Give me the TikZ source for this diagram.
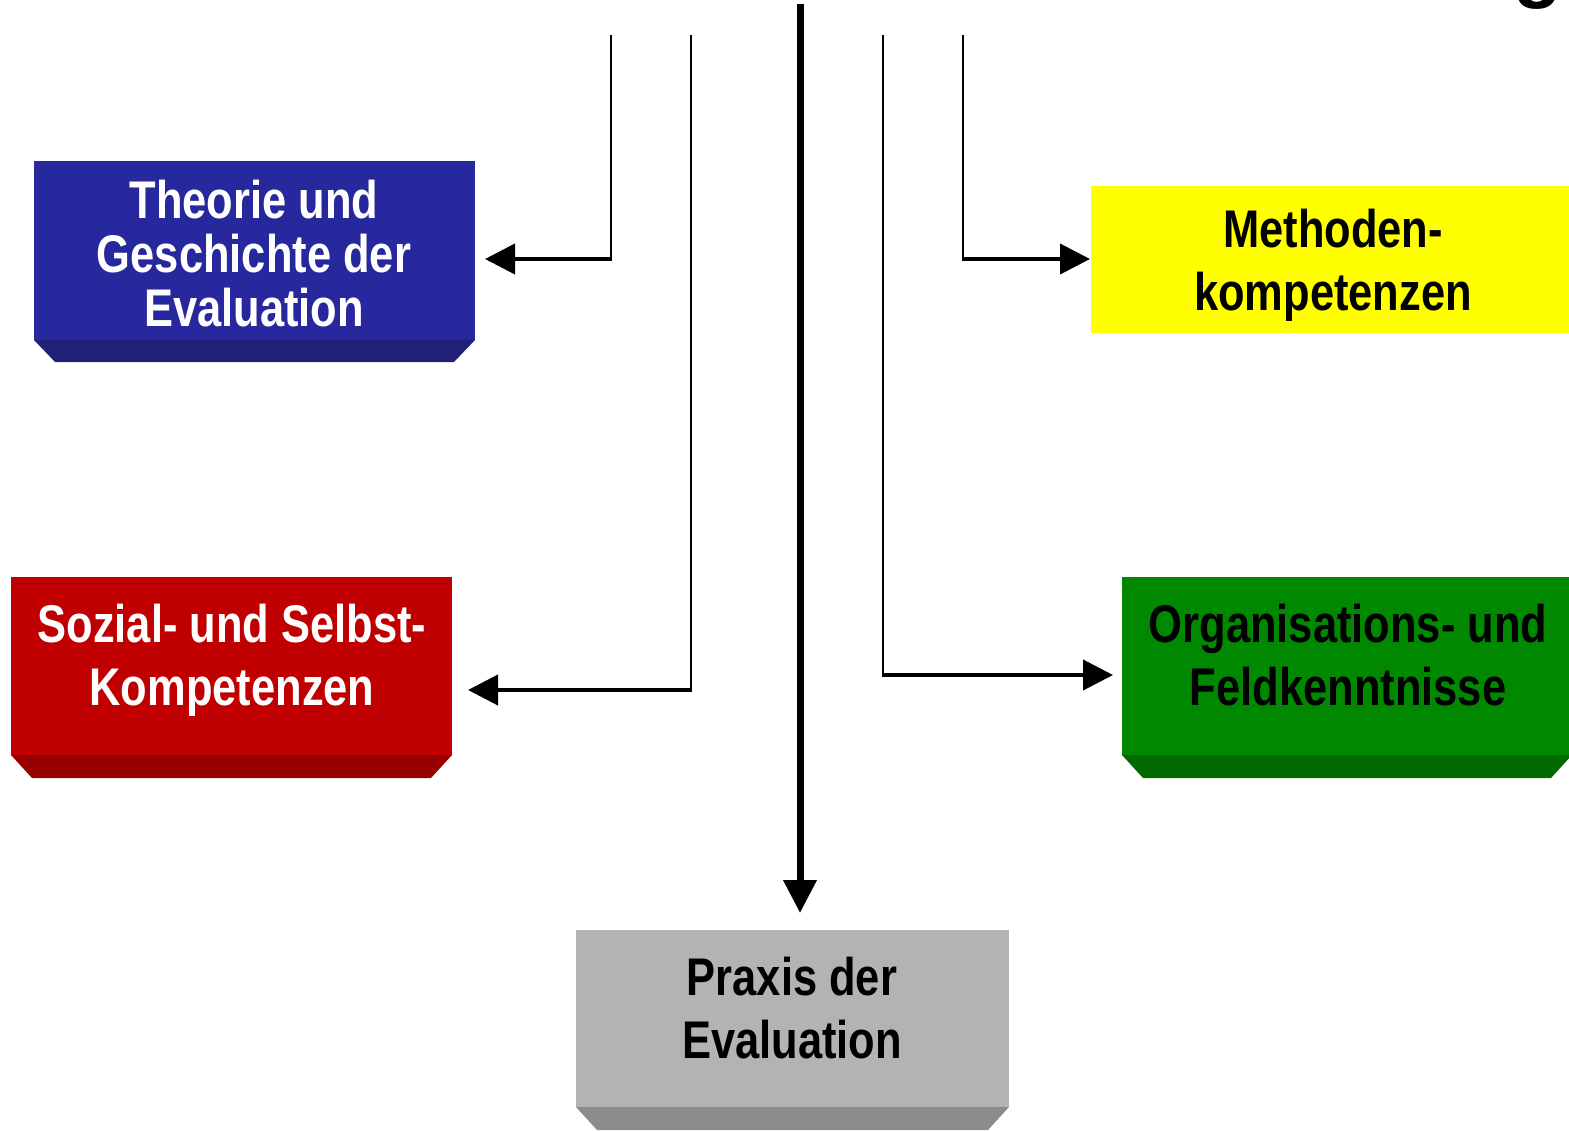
\documentclass[tikz,border=0pt]{standalone}
\usepackage{fontspec}
\newfontfamily\nb{Liberation Sans}[FakeStretch=0.82]
\newfontfamily\tb{Liberation Sans}
\usetikzlibrary{arrows.meta}
\definecolor{blueF}{RGB}{40,40,158}
\definecolor{blueB}{RGB}{32,32,118}
\definecolor{redF}{RGB}{192,0,0}
\definecolor{redB}{RGB}{152,0,0}
\definecolor{greenF}{RGB}{0,136,0}
\definecolor{greenB}{RGB}{0,106,0}
\definecolor{yellowF}{RGB}{255,255,0}
\definecolor{grayF}{RGB}{179,179,179}
\definecolor{grayB}{RGB}{140,140,140}
\tikzset{
  box/.style={rectangle, inner sep=0pt, outer sep=0pt},
  lbl/.style={anchor=base, inner sep=0pt, outer sep=0pt, font=\nb\bfseries\fontsize{53}{64}\selectfont},
  thinln/.style={line width=2pt, black},
  harrow/.style={line width=4pt, black, -{Triangle[length=30pt,width=30pt]}},
  varrow/.style={line width=7pt, black, -{Triangle[length=33pt,width=32pt]}}
}
\begin{document}
\begin{tikzpicture}[x=1pt,y=-1pt]
\useasboundingbox (0,0) rectangle (1569,1130);
\clip (0,0) rectangle (1569,1130);
\fill[white] (0,0) rectangle (1569,1130);

% partial title glyph
\node[anchor=base west, inner sep=0pt, font=\tb\bfseries\fontsize{80}{90}\selectfont] (ttl) at (1513,-8) {g};

% boxes
\node[box, fill=blueF, minimum width=441pt, minimum height=179pt] (theo) at (254.5,250.5) {};
\fill[blueB] (theo.south west) -- (theo.south east) -- ([xshift=-21pt,yshift=-22pt]theo.south east) -- ([xshift=21pt,yshift=-22pt]theo.south west) -- cycle;

\node[box, fill=redF, minimum width=441pt, minimum height=178pt] (soz) at (231.5,666) {};
\fill[redB] (soz.south west) -- (soz.south east) -- ([xshift=-21pt,yshift=-23pt]soz.south east) -- ([xshift=21pt,yshift=-23pt]soz.south west) -- cycle;

\node[box, fill=yellowF, minimum width=489pt, minimum height=147pt] (meth) at (1335.5,259.5) {};

\node[box, fill=greenF, minimum width=450pt, minimum height=178pt] (org) at (1347,666) {};
\fill[greenB] (org.south west) -- (org.south east) -- ([xshift=-21pt,yshift=-23pt]org.south east) -- ([xshift=21pt,yshift=-23pt]org.south west) -- cycle;

\node[box, fill=grayF, minimum width=433pt, minimum height=177pt] (prax) at (792.5,1018.5) {};
\fill[grayB] (prax.south west) -- (prax.south east) -- ([xshift=-21pt,yshift=-23pt]prax.south east) -- ([xshift=21pt,yshift=-23pt]prax.south west) -- cycle;

% labels
\node[lbl, text=white] (theo1) at (254,218) {Theorie und};
\node[lbl, text=white] (theo2) at (254,272) {Geschichte der};
\node[lbl, text=white] (theo3) at (254,326) {Evaluation};

\node[lbl, text=white] (soz1) at (232,642) {Sozial- und Selbst-};
\node[lbl, text=white] (soz2) at (232,705) {Kompetenzen};

\node[lbl, text=black] (meth1) at (1333,247) {Methoden-};
\node[lbl, text=black] (meth2) at (1333,310) {kompetenzen};

\node[lbl, text=black] (org1) at (1348,642) {Organisations- und};
\node[lbl, text=black] (org2) at (1348,705) {Feldkenntnisse};

\node[lbl, text=black] (prax1) at (792,995) {Praxis der};
\node[lbl, text=black] (prax2) at (792,1058) {Evaluation};

% connectors
\coordinate (v1t) at (611,35);
\coordinate (v1b) at (611,259);
\coordinate (v2t) at (691,35);
\coordinate (v2b) at (691,690);
\coordinate (v3t) at (883,35);
\coordinate (v3b) at (883,675);
\coordinate (v4t) at (963,35);
\coordinate (v4b) at (963,259);
\coordinate (ctop) at (800,4);

\draw[thinln] (v1t) -- (v1b);
\draw[thinln] (v2t) -- (v2b);
\draw[thinln] (v3t) -- (v3b);
\draw[thinln] (v4t) -- (v4b);

\draw[harrow, shorten >=10pt] ([xshift=1pt]v1b) -- (v1b -| theo.east);
\draw[harrow, shorten >=16pt] ([xshift=1pt]v2b) -- (v2b -| soz.east);
\draw[harrow, shorten >=9pt] ([xshift=-1pt]v3b) -- (v3b -| org.west);
\draw[harrow, shorten >=1pt] ([xshift=-1pt]v4b) -- (v4b -| meth.west);

\draw[varrow, shorten >=17pt] (ctop) -- (ctop |- prax.north);
\end{tikzpicture}
\end{document}
